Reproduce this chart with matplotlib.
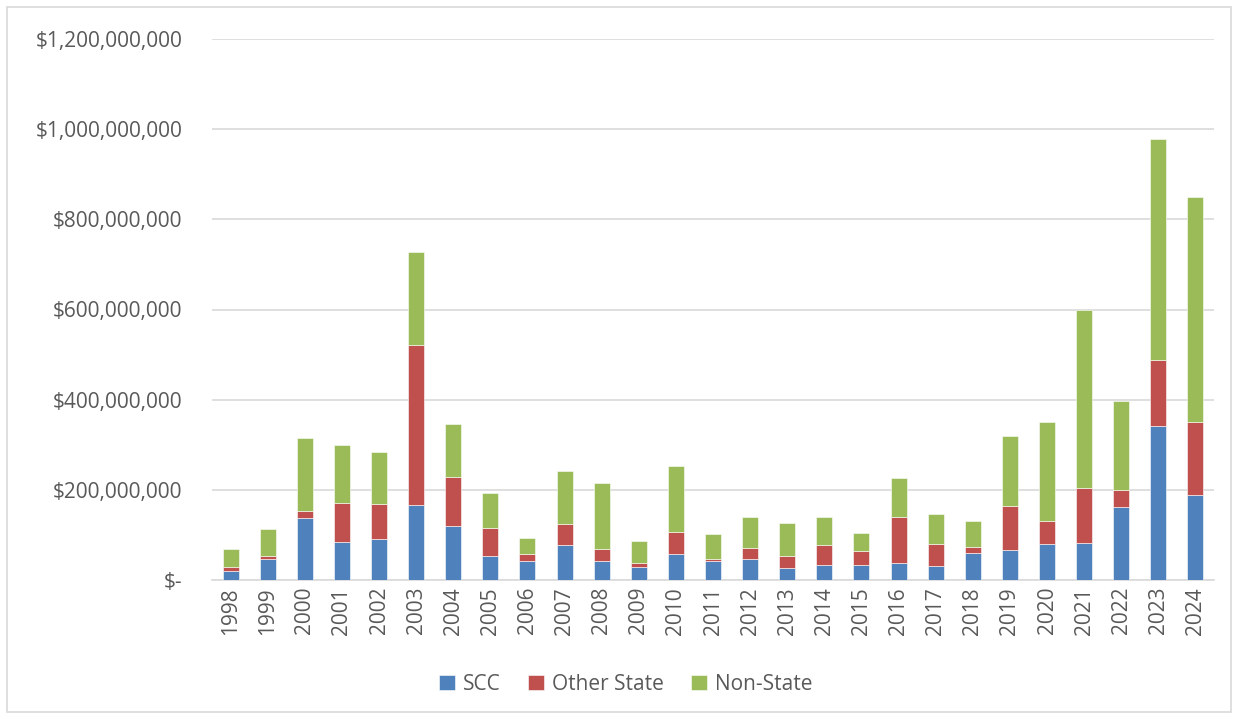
import matplotlib
matplotlib.use("Agg")
import matplotlib.pyplot as plt
from matplotlib.patches import Rectangle
from matplotlib.ticker import FuncFormatter
import numpy as np

years = [str(y) for y in range(1998, 2025)]
# values in millions of dollars
scc = [20.7, 45.9, 138.5, 83.7, 90.4, 166.0, 120.7, 54.0, 43.0, 78.5, 43.0, 28.0, 57.8,
       41.5, 46.0, 27.7, 33.3, 32.6, 37.8, 31.9, 59.3, 67.2, 79.7, 82.7, 162.4, 342.4, 188.2]
other_state = [8.9, 7.4, 15.5, 86.3, 77.6, 354.7, 106.7, 62.3, 14.8, 45.2, 26.6, 9.8, 49.6,
               5.9, 25.9, 26.3, 44.5, 32.6, 102.9, 48.1, 14.7, 97.7, 50.3, 121.7, 37.6, 145.4, 162.4]
non_state = [38.4, 59.3, 162.0, 128.5, 115.7, 207.3, 119.3, 77.0, 36.2, 117.0, 145.2, 48.2, 144.5,
             54.1, 67.4, 73.4, 62.2, 39.2, 85.2, 66.7, 57.0, 155.6, 220.6, 395.0, 196.3, 490.8, 498.1]
series_names = ["SCC", "Other State", "Non-State"]
colors = ["#4F81BD", "#C0504D", "#9BBB59"]
yticks = [0, 200e6, 400e6, 600e6, 800e6, 1000e6, 1200e6]

plt.rcParams['font.family'] = ['Open Sans', 'DejaVu Sans']
fig = plt.figure(figsize=(12.39, 7.19), dpi=100)
W, H = 1239, 719
ax = fig.add_axes([212 / W, 1 - 580 / H, (1214 - 212) / W, (580 - 39) / H])

x = np.arange(len(years))
s1 = np.array(scc) * 1e6
s2 = np.array(other_state) * 1e6
s3 = np.array(non_state) * 1e6
bw = 0.43
ax.bar(x, s1, bw, color=colors[0], label=series_names[0], edgecolor='white', linewidth=0.4, zorder=3)
ax.bar(x, s2, bw, bottom=s1, color=colors[1], label=series_names[1], edgecolor='white', linewidth=0.4, zorder=3)
ax.bar(x, s3, bw, bottom=s1 + s2, color=colors[2], label=series_names[2], edgecolor='white', linewidth=0.4, zorder=3)

ax.set_xlim(-0.5, len(years) - 0.5)
ax.set_ylim(0, 1.2e9)
ax.set_yticks(yticks)

def fmt(v, pos):
    if v == 0:
        return "$-"
    return "${:,.0f}".format(v)

ax.yaxis.set_major_formatter(FuncFormatter(fmt))
ax.set_xticks(x)
ax.set_xticklabels(years, rotation=90)
ax.grid(axis='y', color='#D9D9D9', linewidth=1.2, zorder=0)
for sp in ['top', 'right', 'left']:
    ax.spines[sp].set_visible(False)
ax.spines['bottom'].set_color('#D9D9D9')
ax.spines['bottom'].set_linewidth(1.2)
ax.tick_params(axis='both', length=0, colors='#595959', labelsize=15)
ax.tick_params(axis='y', pad=21.5)
ax.tick_params(axis='x', pad=5)

leg = fig.legend(loc='center', bbox_to_anchor=(626 / W, 1 - 684 / H), ncol=3, frameon=False,
                 fontsize=15, handlelength=0.75, handleheight=0.75, handletextpad=0.4, columnspacing=1.3)
for t in leg.get_texts():
    t.set_color('#595959')

fig.patches.append(Rectangle((7 / W, 7 / H), (1231 - 7) / W, (712 - 7) / H, transform=fig.transFigure,
                             fill=False, edgecolor='#D9D9D9', linewidth=1.2))

fig.savefig("out.png", dpi=100)
